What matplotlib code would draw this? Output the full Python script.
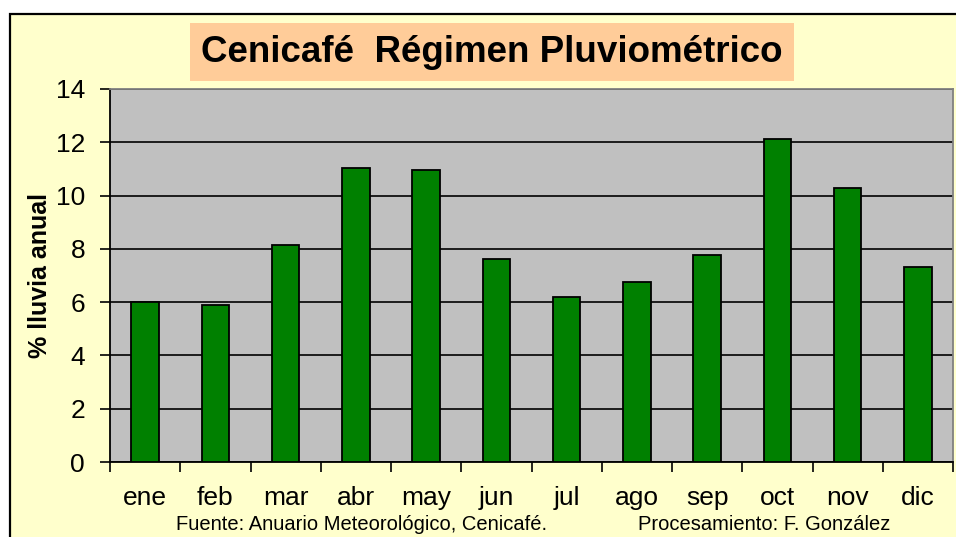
import numpy as np
import matplotlib
matplotlib.use("Agg")
import matplotlib.pyplot as plt
from matplotlib.patches import Rectangle

# Monthly share of annual rainfall at Cenicafé (%)
months = ["ene", "feb", "mar", "abr", "may", "jun",
          "jul", "ago", "sep", "oct", "nov", "dic"]
rain_pct = [6.0, 5.9, 8.15, 11.04, 10.96, 7.62,
            6.19, 6.76, 7.77, 12.12, 10.28, 7.32]
y_ticks = [0, 2, 4, 6, 8, 10, 12, 14]

plt.rcParams["font.family"] = ["Liberation Sans", "DejaVu Sans"]

W, H = 956, 537
fig = plt.figure(figsize=(W / 100, H / 100), dpi=100, facecolor="white")

# chart frame (light yellow with black border, cut off at right/bottom)
fig.patches.append(Rectangle((10 / W, -0.05), 1.1, (H - 14) / H + 0.05,
                             transform=fig.transFigure, facecolor="#FFFFCC",
                             edgecolor="black", linewidth=1.6, zorder=-5))

ax = fig.add_axes([110 / W, (H - 462) / H, 843 / W, 373 / H])
ax.set_zorder(2)
ax.set_facecolor("#C0C0C0")

x = np.arange(len(months)) + 0.5
ax.bar(x, rain_pct, width=0.39, color="#008000", edgecolor="black",
       linewidth=1.3, zorder=3)

ax.set_xlim(0, 12)
ax.set_ylim(0, 14)
ax.set_yticks(y_ticks)
ax.yaxis.grid(True, color="black", linewidth=1.2, zorder=1)
ax.set_axisbelow(True)

ax.set_xticks(x)
ax.set_xticklabels(months, fontsize=19)
ax.tick_params(axis="x", which="major", length=0, pad=17)
ax.set_xticks(np.arange(0, 13), minor=True)
ax.tick_params(axis="x", which="minor", length=7, width=1.2, direction="out")
ax.tick_params(axis="y", labelsize=19, length=7, width=1.2, pad=11)

for side in ["left", "bottom"]:
    ax.spines[side].set_color("black")
    ax.spines[side].set_linewidth(1.3)
for side in ["top", "right"]:
    ax.spines[side].set_color("#808080")
    ax.spines[side].set_linewidth(1.3)

ax.set_ylabel("% lluvia anual", fontsize=18, fontweight="bold")
ax.yaxis.set_label_coords(-0.069, 0.5)

fig.text(492 / W, 1 - 52 / H, "Cenicafé  Régimen Pluviométrico",
         fontsize=26.5, fontweight="bold", ha="center", va="center",
         bbox=dict(boxstyle="square,pad=0.3", facecolor="#FFCC99",
                   edgecolor="none"))

fig.text(362 / W, 1 - 525 / H, "Fuente: Anuario Meteorológico, Cenicafé.",
         fontsize=14.5, ha="center", va="center")
fig.text(764 / W, 1 - 525 / H, "Procesamiento: F. González",
         fontsize=14.5, ha="center", va="center")

fig.savefig("out.png", dpi=100, facecolor=fig.get_facecolor())
